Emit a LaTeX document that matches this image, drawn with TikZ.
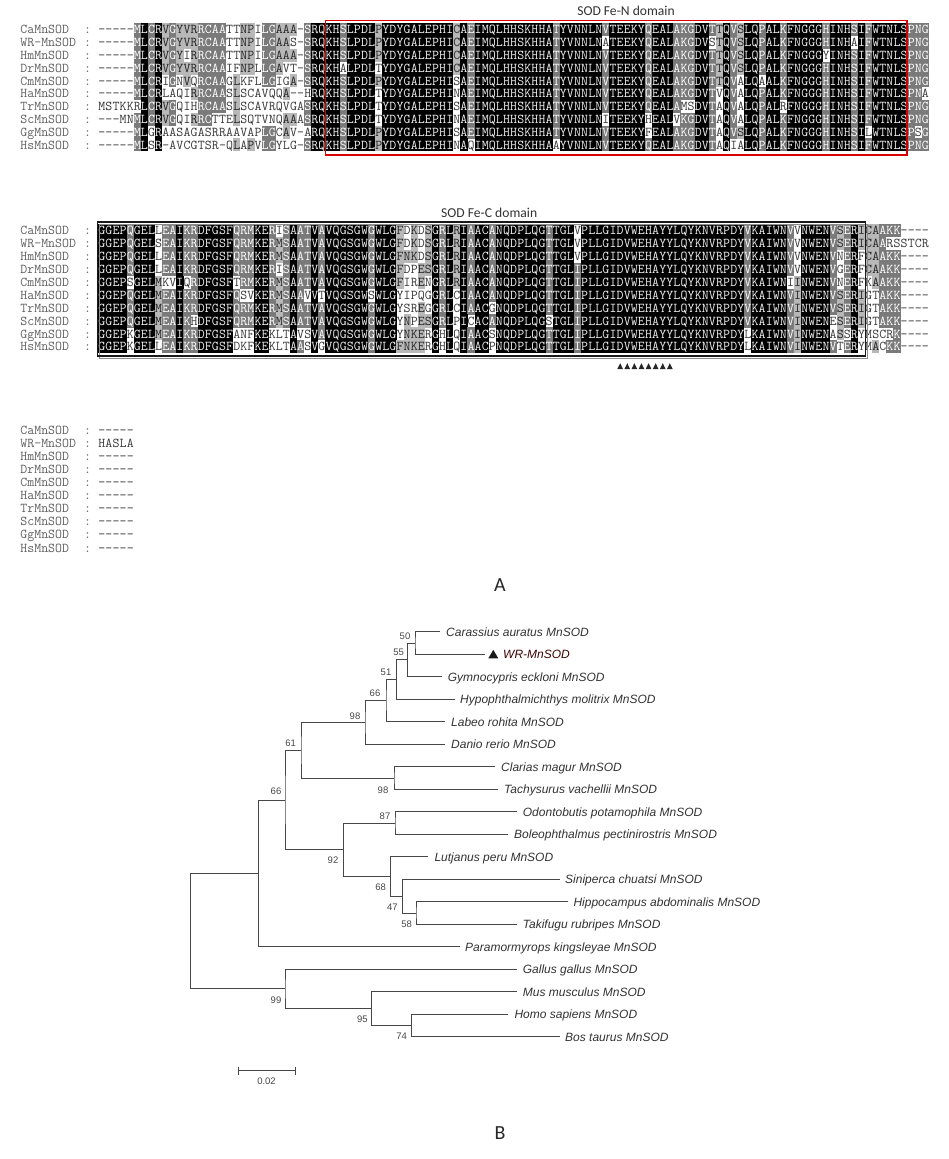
\documentclass[tikz,border=0pt]{standalone}
\usepackage{fontspec}
\newfontfamily\arialf{Liberation Sans}
\newfontfamily\calf{Carlito}
\usetikzlibrary{calc}
\colorlet{ck}{black}
\colorlet{cg}{black!52}
\colorlet{cl}{black!28}
\colorlet{tk}{black!6}
\colorlet{tg}{white}
\colorlet{tl}{black!85}
\colorlet{tw}{black!78}
\colorlet{boxred}{red!85!black}
\newcount\seqcol
\def\seqx{98.3}
\def\seqw{7.1}
\def\seqh{12.8}
\def\seqrow#1#2#3#4{%
  \def\seqy{#1}\global\seqcol=0
  \edef\seqtmp{\noexpand\seqstep#2\noexpand\SEQA#3==========\noexpand\SEQB#4wwwwwwwwww\noexpand\SEQC}%
  \seqtmp}
\def\seqstep#1#2\SEQA#3#4\SEQB#5#6\SEQC{%
  \global\advance\seqcol by 1
  \seqcell{#1}{#3}{#5}%
  \ifx\relax#2\relax\expandafter\seqstop\else\expandafter\seqstep\fi#2\SEQA#4\SEQB#6\SEQC}
\def\seqstop\SEQA#1\SEQB#2\SEQC{}
\def\seqcell#1#2#3{%
  \if#1-\def\seqcls{w}\else\if#1#2\def\seqcls{#3}\else\def\seqcls{w}\fi\fi
  \pgfmathsetmacro\seqcx{\seqx+(\seqcol-0.5)*\seqw}%
  \if\seqcls w\else
    \fill[c\seqcls] (\seqcx-\seqw/2-0.06,\seqy-\seqh/2-0.06) rectangle (\seqcx+\seqw/2+0.06,\seqy+\seqh/2+0.06);
  \fi
  \node[seqch,text=t\seqcls] at (\seqcx,\seqy+4.1) {#1};}
\def\namerow#1#2#3{%
  \node[nm,anchor=base west] (#2) at (20.2,#1+4.1) {#3};
  \node[nm,anchor=base] (#2c) at (87.65,#1+4.1) {:};}
\def\clade#1#2#3{\draw[br] (#2) -| (#1) |- (#3);}
\def\consA{%
-----MLCRVGYVRRCAATLNPILGAAA-SRQ%
KHSLPDLPYDYGALEPHICAEIMQLHHSKHHATYVNNLNVTEEKYQEALAKGDVTTQVSLQPALKFNGGGHINHSIFWTNLSPNG}
\def\classA{%
wwwww%
gkgklglllggggwlllwgglllwgkk%
kkgkkkklkk%
kkkkkkkklk%
gkkkkkkkkk%
kkgkkkkkkg%
kkkkkgkkkg%
ggkkglkglk%
kgkkgkkkkk%
gkkkgkgkkk%
kkggg}
\def\consB{%
GGEPQGELMEAIKRDFGSFQRMKERMSAATVAVQGSGWGWLGFNKESGRLRIAACANQDPLQGTTGLIPLLGIDVWEHAYYLQYKNVRPDYVKAIWNVINWENVSERICAAKK----}
\def\classB{%
kkkkgkkklg%
gkggkkkkkg%
ggkkglgkgg%
kgkkkkkkgk%
kklllllkgk%
lkgkkgkkkk%
kkkgkkkgkk%
kkkkkkkkkk%
kkkkkkkkkk%
kgkkkkkglk%
kkkglgklll%
gggwwww}
\begin{document}
\begin{tikzpicture}[x=1pt,y=-1pt,
  seqch/.style={font=\ttfamily\fontsize{13.5}{13.5}\selectfont, inner sep=0pt, anchor=base},
  nm/.style={font=\ttfamily\fontsize{13.5}{13.5}\selectfont, inner sep=0pt, text=black!62},
  leaf/.style={font=\arialf\itshape\fontsize{12}{12}\selectfont, inner sep=0pt, anchor=base west, text=black!80},
  bs/.style={font=\arialf\fontsize{9.5}{9.5}\selectfont, inner sep=0pt, text=black!72},
  br/.style={draw=black!72, line width=0.9pt},
  ttl/.style={font=\calf\fontsize{13.6}{14}\selectfont, text=black!80, inner sep=0pt},
  panel/.style={font=\calf\fontsize{20}{20}\selectfont, text=black!85, inner sep=0pt}]
\useasboundingbox (0,0) rectangle (948,1159);
\fill[white] (0,0) rectangle (948,1159);

% ---------- Block 1 ----------
\node[ttl] (tN) at (626,10.7) {SOD Fe-N domain};
\def\seqh{12.8}
\namerow{29.7}{a1}{CaMnSOD}
\namerow{42.5}{a2}{WR-MnSOD}
\namerow{55.3}{a3}{HmMnSOD}
\namerow{68.1}{a4}{DrMnSOD}
\namerow{80.9}{a5}{CmMnSOD}
\namerow{93.7}{a6}{HaMnSOD}
\namerow{106.5}{a7}{TrMnSOD}
\namerow{119.3}{a8}{ScMnSOD}
\namerow{132.1}{a9}{GgMnSOD}
\namerow{144.9}{a10}{HsMnSOD}
\seqrow{29.7}{-----MLCRVGYVRRCAATTNPILGAAA-SRQKHSLPDLPYDYGALEPHICAEIMQLHHSKHHATYVNNLNVTEEKYQEALAKGDVTTQVSLQPALKFNGGGHINHSIFWTNLSPNG}{\consA}{\classA}
\seqrow{42.5}{-----MLCRVGYVRRCAATTNPILGAAS-SRQKHSLPDLPYDYGALEPHICAEIMQLHHSKHHATYVNNLNATEEKYQEALAKGDVSTQVSLQPALKFNGGGHINHAIFWTNLSPNG}{\consA}{\classA}
\seqrow{55.3}{-----MLCRVGYIRRCAATTNPILGAAA-SRQKHSLPDLPYDYGALEPHICAEIMQLHHSKHHATYVNNLNVTEEKYQEALAKGDVTTQVSLQPALKFNGGGYINHSIFWTNLSPNG}{\consA}{\classA}
\seqrow{68.1}{-----MLCRVGYVRRCAAIFNPLLGAVT-SRQKHALPDLTYDYGALEPHICAEIMQLHHSKHHATYVNNLNVTEEKYQEALAKGDVTTQVSLQPALKFNGGGHINHSIFWTNLSPNG}{\consA}{\classA}
\seqrow{80.9}{-----MLCRIGNVQRCAAGLKFLLGIGA-SRQKHSLPDLPYDYGALEPHISAEIMQLHHSKHHATYVNNLNVTEEKYQEALAKGDVTTQVALQAALKFNGGGHINHSIFWTNLSPNG}{\consA}{\classA}
\seqrow{93.7}{-----MLCRLAQIRRCAASLSCAVQQA--HRQKHSLPDLTYDYGALEPHINAEIMQLHHSKHHATYVNNLNVTEEKYQEALAKGDVTVQVALQPALKFNGGGHINHSIFWTNLSPNA}{\consA}{\classA}
\seqrow{106.5}{MSTKKRLCRVGQIHRCAASLSCAVRQVGASRQKHSLPDLTYDYGALEPHISAEIMQLHHSKHHATYVNNLNVTEEKYQEALAMSDVTAQVALQPALRFNGGGHINHSIFWTNLSPNG}{\consA}{\classA}
\seqrow{119.3}{---MNMLCRVGQIRRCTTELSQTVNQAAASRQKHSLPDLTYDYGALEPHINAEIMQLHHSKHHATYVNNLNITEEKYHEALVKGDVTAQVALQPALKFNGGGHINHSIFWTNLSPNG}{\consA}{\classA}
\seqrow{132.1}{-----MLGRAASAGASRRAAVAPLGCAV-ARQKHSLPDLPYDYGALEPHISAEIMQLHHSKHHATYVNNLNVTEEKYFEALAKGDVTAQVSLQPALKFNGGGHINHSILWTNLSPSG}{\consA}{\classA}
\seqrow{144.9}{-----MLSR-AVCGTSR-QLAPVLGYLG-SRQKHSLPDLPYDYGALEPHINAQIMQLHHSKHHAAYVNNLNVTEEKYQEALAKGDVTAQIALQPALKFNGGGHINHSIFWTNLSPNG}{\consA}{\classA}
\draw[boxred, line width=1.4pt] (325.5,20.3) rectangle (906.8,154.8);

% ---------- Block 2 ----------
\node[ttl] (tC) at (489.2,213.3) {SOD Fe-C domain};
\def\seqh{12.9}
\namerow{230.7}{b1}{CaMnSOD}
\namerow{243.6}{b2}{WR-MnSOD}
\namerow{256.5}{b3}{HmMnSOD}
\namerow{269.4}{b4}{DrMnSOD}
\namerow{282.3}{b5}{CmMnSOD}
\namerow{295.2}{b6}{HaMnSOD}
\namerow{308.1}{b7}{TrMnSOD}
\namerow{321.0}{b8}{ScMnSOD}
\namerow{333.9}{b9}{GgMnSOD}
\namerow{346.8}{b10}{HsMnSOD}
\seqrow{230.7}{GGEPQGELLEAIKRDFGSFQRMKERISAATVAVQGSGWGWLGFDKDSGRLRIAACANQDPLQGTTGLVPLLGIDVWEHAYYLQYKNVRPDYVKAIWNVVNWENVSERICAAKK----}{\consB}{\classB}
\seqrow{243.6}{GGEPQGELSEAIKRDFGSFQRMKERMSAATVAVQGSGWGWLGFDKDSGRLRIAACANQDPLQGTTGLVPLLGIDVWEHAYYLQYKNVRPDYVKAIWNVVNWENVSERICAARSSTCR}{\consB}{\classB}
\seqrow{256.5}{GGEPQGELLEAIKRDFGSFQRMKERMSAATVAVQGSGWGWLGFNKDSGRLRIAACANQDPLQGTTGLVPLLGIDVWEHAYYLQYKNVRPDYVKAIWNVVNWENVNERFCAAKK----}{\consB}{\classB}
\seqrow{269.4}{GGEPQGELLEAIKRDFGSFQRMKERISAATVAVQGSGWGWLGFDPESGRLRIAACANQDPLQGTTGLIPLLGIDVWEHAYYLQYKNVRPDYVKAIWNVVNWENVGERFCAAKK----}{\consB}{\classB}
\seqrow{282.3}{GGEPSGELMKVIQRDFGSFTRMKERMSAATVAVQGSGWGWLGFIRENGRLRIAACANQDPLQGTTGLIPLLGIDVWEHAYYLQYKNVRPDYVKAIWNIINWENVNERFKAAKK----}{\consB}{\classB}
\seqrow{295.2}{GGEPQGELMEAIKRDFGSFQSVKERMSAAVVTVQGSGWSWLGYIPQGGRLCIAACANQDPLQGTTGLIPLLGIDVWEHAYYLQYKNVRPDYVKAIWNVINWENVSERIGTAKK----}{\consB}{\classB}
\seqrow{308.1}{GGEPQGELMEAIKRDFGSFQRMKERMSAATVAVQGSGWGWLGYSREGGRLCIAACGNQDPLQGTTGLIPLLGIDVWEHAYYLQYKNVRPDYVKAIWNVINWENVSERIGTAKK----}{\consB}{\classB}
\seqrow{321.0}{GGEPQGELMEAIKHDFGSFQRMKERMSAATVAVQGSGWGWLGYNPESGRLPICACANQDPLQGSTGLIPLLGIDVWEHAYYLQYKNVRPDYVKAIWNVINWENESERIGTAKK----}{\consB}{\classB}
\seqrow{333.9}{GGEPKGELMEAIKRDFGSFANFKEKLTAVSVAVQGSGWGWLGYNKERGHLQIAACSNQDPLQGTTGLIPLLGIDVWEHAYYLQYKNVRPDYLKAIWNVINWENASSRYMSCRK----}{\consB}{\classB}
\seqrow{346.8}{GGEPKGELLEAIKRDFGSFDKFKEKLTAASVGVQGSGWGWLGFNKERGHLQIAACPNQDPLQGTTGLIPLLGIDVWEHAYYLQYKNVRPDYLKAIWNVINWENVTERYMACKK----}{\consB}{\classB}
\draw[black!45, line width=1pt] (99.5,224) rectangle (867.5,358);
\draw[black!90, line width=1.4pt] (97.3,221.8) rectangle (865.2,355.8);
\foreach \c in {74,...,81} {
  \fill[black!85] ({98.3+(\c-0.5)*7.1-2.8},369) -- ++(5.6,0) -- ++(-2.8,-5.8) -- cycle;
}

% ---------- Block 3 ----------
\def\seqh{13.1}
\namerow{430}{c1}{CaMnSOD}
\namerow{443.1}{c2}{WR-MnSOD}
\namerow{456.2}{c3}{HmMnSOD}
\namerow{469.3}{c4}{DrMnSOD}
\namerow{482.4}{c5}{CmMnSOD}
\namerow{495.5}{c6}{HaMnSOD}
\namerow{508.6}{c7}{TrMnSOD}
\namerow{521.7}{c8}{ScMnSOD}
\namerow{534.8}{c9}{GgMnSOD}
\namerow{547.9}{c10}{HsMnSOD}
\seqrow{430}{-----}{-----}{wwwww}
\seqrow{443.1}{HASLA}{-----}{wwwww}
\seqrow{456.2}{-----}{-----}{wwwww}
\seqrow{469.3}{-----}{-----}{wwwww}
\seqrow{482.4}{-----}{-----}{wwwww}
\seqrow{495.5}{-----}{-----}{wwwww}
\seqrow{508.6}{-----}{-----}{wwwww}
\seqrow{521.7}{-----}{-----}{wwwww}
\seqrow{534.8}{-----}{-----}{wwwww}
\seqrow{547.9}{-----}{-----}{wwwww}

\node[panel] (labA) at (500,585) {A};

% ---------- Tree ----------
\coordinate (t1) at (440,631.7);
\coordinate (t2) at (485,654.2);
\coordinate (t3) at (441.7,676.7);
\coordinate (t4) at (455,699.2);
\coordinate (t5) at (445,721.7);
\coordinate (t6) at (445,744.2);
\coordinate (t7) at (495,766.7);
\coordinate (t8) at (498,789.2);
\coordinate (t9) at (516.7,811.7);
\coordinate (t10) at (508,834.2);
\coordinate (t11) at (428.3,856.7);
\coordinate (t12) at (560,879.2);
\coordinate (t13) at (568.3,901.7);
\coordinate (t14) at (516.7,924.2);
\coordinate (t15) at (460,946.7);
\coordinate (t16) at (516.7,969.2);
\coordinate (t17) at (516.7,991.7);
\coordinate (t18) at (508.3,1014.2);
\coordinate (t19) at (560,1036.7);
\coordinate (n50) at (415,642.95);
\coordinate (n55) at (407.3,659.8);
\coordinate (n51) at (396.7,679.5);
\coordinate (n66a) at (386,700.6);
\coordinate (n98a) at (365,722.4);
\coordinate (n98b) at (394,777.95);
\coordinate (n61) at (301,750.2);
\coordinate (n87) at (395,822.95);
\coordinate (n58) at (416,912.95);
\coordinate (n47) at (402.3,896.1);
\coordinate (n68) at (390.7,876.4);
\coordinate (n92) at (343.3,849.7);
\coordinate (n66b) at (285,799.95);
\coordinate (nP) at (258.3,873.3);
\coordinate (n74) at (411.7,1025.45);
\coordinate (n95) at (371.7,1008.6);
\coordinate (n99) at (285,988.9);
\coordinate (root) at (190.7,931.1);
\clade{n50}{t1}{t2}
\clade{n55}{n50}{t3}
\clade{n51}{n55}{t4}
\clade{n66a}{n51}{t5}
\clade{n98a}{n66a}{t6}
\clade{n98b}{t7}{t8}
\clade{n61}{n98a}{n98b}
\clade{n87}{t9}{t10}
\clade{n58}{t13}{t14}
\clade{n47}{t12}{n58}
\clade{n68}{t11}{n47}
\clade{n92}{n87}{n68}
\clade{n66b}{n61}{n92}
\clade{nP}{n66b}{t15}
\clade{n74}{t18}{t19}
\clade{n95}{t17}{n74}
\clade{n99}{t16}{n95}
\clade{root}{nP}{n99}

\node[leaf] (L1) at (446,636) {Carassius auratus MnSOD};
\fill[black!90] (488.3,658.4) -- (498.3,658.4) -- (493.3,649.8) -- cycle;
\node[leaf, text=black!60!red!60!black] (L2) at (503,658.5) {WR-MnSOD};
\node[leaf] (L3) at (447.7,681) {Gymnocypris eckloni MnSOD};
\node[leaf] (L4) at (460,703.5) {Hypophthalmichthys molitrix MnSOD};
\node[leaf] (L5) at (451,726) {Labeo rohita MnSOD};
\node[leaf] (L6) at (451,748.5) {Danio rerio MnSOD};
\node[leaf] (L7) at (501,771) {Clarias magur MnSOD};
\node[leaf] (L8) at (504,793.5) {Tachysurus vachellii MnSOD};
\node[leaf] (L9) at (522.7,816) {Odontobutis potamophila MnSOD};
\node[leaf] (L10) at (514,838.5) {Boleophthalmus pectinirostris MnSOD};
\node[leaf] (L11) at (434.3,861) {Lutjanus peru MnSOD};
\node[leaf] (L12) at (565,883.5) {Siniperca chuatsi MnSOD};
\node[leaf] (L13) at (573.3,906) {Hippocampus abdominalis MnSOD};
\node[leaf] (L14) at (522.7,928.5) {Takifugu rubripes MnSOD};
\node[leaf] (L15) at (465,951) {Paramormyrops kingsleyae MnSOD};
\node[leaf] (L16) at (522.7,973.5) {Gallus gallus MnSOD};
\node[leaf] (L17) at (522.7,996) {Mus musculus MnSOD};
\node[leaf] (L18) at (514.3,1018.5) {Homo sapiens MnSOD};
\node[leaf] (L19) at (565,1041) {Bos taurus MnSOD};

\node[bs] (b50) at (405,636) {50};
\node[bs] (b55) at (398.7,652.7) {55};
\node[bs] (b51) at (386,672.7) {51};
\node[bs] (b66a) at (375,693) {66};
\node[bs] (b98a) at (355,716.7) {98};
\node[bs] (b61) at (290.7,743.3) {61};
\node[bs] (b98b) at (383,790) {98};
\node[bs] (b66b) at (276,791.7) {66};
\node[bs] (b87) at (385,816) {87};
\node[bs] (b92) at (333,860) {92};
\node[bs] (b68) at (380.7,887.3) {68};
\node[bs] (b47) at (392.3,907.3) {47};
\node[bs] (b58) at (406.7,924) {58};
\node[bs] (b99) at (276,1000.7) {99};
\node[bs] (b95) at (362.3,1019.3) {95};
\node[bs] (b74) at (401.7,1036) {74};

\coordinate (sb1) at (238.3,1070.7);
\coordinate (sb2) at (295,1070.7);
\draw[br] (sb1) -- (sb2);
\draw[br] ($(sb1)+(0,-4)$) -- ($(sb1)+(0,4)$);
\draw[br] ($(sb2)+(0,-4)$) -- ($(sb2)+(0,4)$);
\node[bs] (sbl) at (266.5,1081.5) {0.02};

\node[panel] (labB) at (500,1133) {B};
\end{tikzpicture}
\end{document}
